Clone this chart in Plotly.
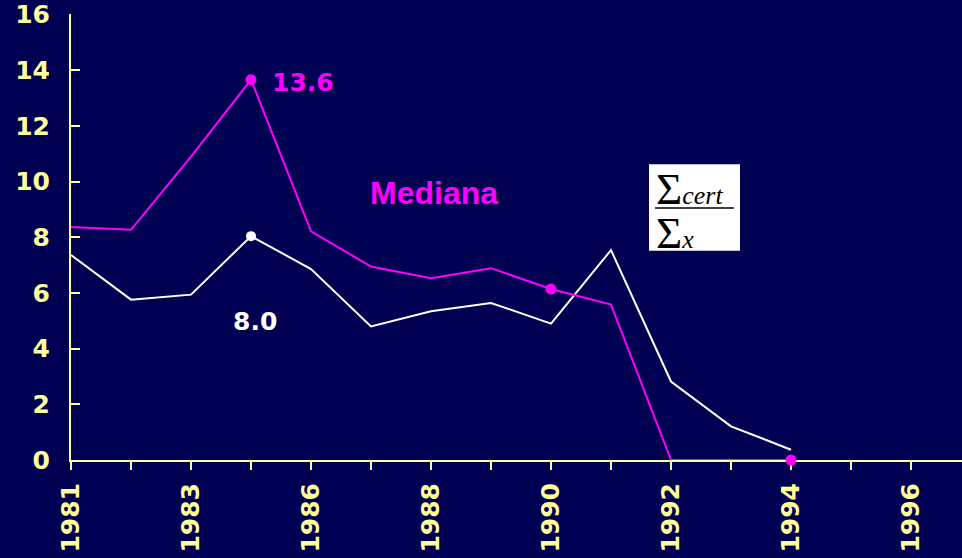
import plotly.graph_objects as go

years = ["1981", "1982", "1983", "1984", "1986", "1987", "1988", "1989",
         "1990", "1991", "1992", "1993", "1994", "1995", "1996"]
tick_labels = ["1981", "", "1983", "", "1986", "", "1988", "", "1990", "",
               "1992", "", "1994", "", "1996"]

ratio_years = years[:13]
ratio_values = [7.36, 5.76, 5.94, 8.04, 6.86, 4.80, 5.34, 5.64, 4.90, 7.54, 2.82, 1.21, 0.37]

median_years = years[:13]
median_values = [8.37, 8.27, 10.9, 13.66, 8.21, 6.95, 6.53, 6.89, 6.14, 5.58, 0.0, 0.0, 0.0]

median_marked = ["1984", "1990", "1994"]
ratio_marked = ["1984"]

BG = "#000052"
AX = "#ffff99"
MAG = "#ff00ff"

fig = go.Figure()

fig.add_trace(go.Scatter(x=ratio_years, y=ratio_values, mode="lines",
                         line=dict(color="white", width=2), cliponaxis=False,
                         hoverinfo="skip"))
fig.add_trace(go.Scatter(x=median_years, y=median_values, mode="lines",
                         line=dict(color=MAG, width=2), cliponaxis=False,
                         hoverinfo="skip"))

fig.add_trace(go.Scatter(
    x=ratio_marked,
    y=[ratio_values[ratio_years.index(y)] for y in ratio_marked],
    mode="markers", marker=dict(color="white", size=10), cliponaxis=False))
fig.add_trace(go.Scatter(
    x=median_marked,
    y=[median_values[median_years.index(y)] for y in median_marked],
    mode="markers", marker=dict(color=MAG, size=11), cliponaxis=False))

num_font = dict(family="DejaVu Sans", size=25, weight="bold")

fig.update_layout(
    width=962, height=558,
    margin=dict(l=71, r=0, t=12, b=98),
    paper_bgcolor=BG, plot_bgcolor=BG,
    showlegend=False,
    xaxis=dict(
        type="category", categoryorder="array", categoryarray=years,
        tickvals=years, ticktext=tick_labels,
        range=[0, 14.85],
        showline=True, linecolor=AX, linewidth=2,
        ticks="outside", ticklen=8, tickwidth=2, tickcolor=AX,
        tickangle=-90, tickfont=dict(color=AX, **num_font),
        ticklabelstandoff=3, ticklabeloverflow="allow",
        showgrid=False, zeroline=False, layer="below traces",
    ),
    yaxis=dict(
        range=[0, 16.02], tickvals=list(range(0, 17, 2)),
        showline=True, linecolor=AX, linewidth=2,
        ticks="inside", ticklen=9, tickwidth=2, tickcolor=AX,
        tickfont=dict(color=AX, **num_font),
        ticklabelstandoff=14, ticklabeloverflow="allow",
        showgrid=False, zeroline=False, layer="below traces",
    ),
)


def px(x):
    return (x - 71) / 891


def py(y):
    return (460.5 - y) / 448.5


# labels
fig.add_annotation(xref="paper", yref="paper", x=px(302.5), y=py(81),
                   text="13.6", showarrow=False, xanchor="center", yanchor="middle",
                   font=dict(color=MAG, family="DejaVu Sans", size=25, weight="bold"))
fig.add_annotation(xref="paper", yref="paper", x=px(255), y=py(321.5),
                   text="8.0", showarrow=False, xanchor="center", yanchor="middle",
                   font=dict(color="white", family="DejaVu Sans", size=25, weight="bold"))
fig.add_annotation(xref="paper", yref="paper", x=px(434), y=py(192),
                   text="Mediana", showarrow=False, xanchor="center", yanchor="middle",
                   font=dict(color=MAG, family="Liberation Sans", size=32, weight="bold"))

# formula box
fig.add_shape(type="rect", xref="paper", yref="paper",
              x0=px(649), x1=px(740), y0=py(250), y1=py(163),
              fillcolor="white", line=dict(width=0), layer="above")
fig.add_shape(type="line", xref="paper", yref="paper",
              x0=px(655), x1=px(734), y0=py(207), y1=py(207),
              line=dict(color="black", width=1.5), layer="above")
formula = ("<span style='font-size:45px'>Σ</span><i><span style='font-size:26px'>cert</span></i>"
           "<br><span style='font-size:45px'>Σ</span><i><span style='font-size:26px'>x</span></i>")
fig.add_annotation(xref="paper", yref="paper", x=px(654), y=py(210),
                   text=formula, showarrow=False, xanchor="left", yanchor="middle",
                   align="left",
                   font=dict(color="black", family="Liberation Serif", size=34))

fig.write_html("out.html", config={"displayModeBar": False},
               post_script="document.body.style.margin='0';")
